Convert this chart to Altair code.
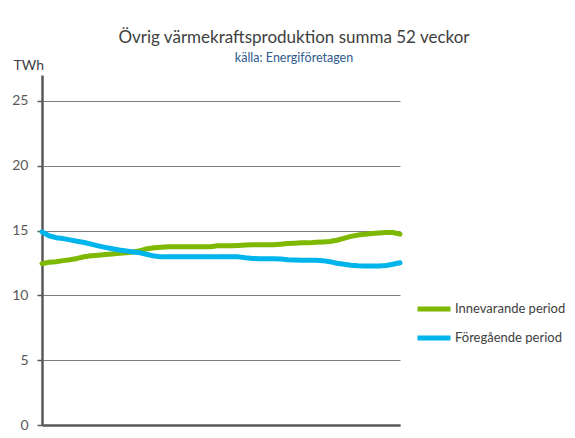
import altair as alt
import pandas as pd

weeks = list(range(52))
innevarande = [12.45, 12.55, 12.6, 12.68, 12.75, 12.85, 12.98, 13.05, 13.1, 13.15,
               13.2, 13.25, 13.28, 13.35, 13.45, 13.6, 13.68, 13.72, 13.75, 13.75,
               13.75, 13.75, 13.75, 13.75, 13.75, 13.82, 13.82, 13.82, 13.85, 13.88,
               13.9, 13.9, 13.9, 13.9, 13.95, 14.0, 14.02, 14.05, 14.05, 14.1,
               14.12, 14.15, 14.25, 14.4, 14.55, 14.65, 14.72, 14.78, 14.82, 14.85,
               14.85, 14.72]
foregaende = [14.9, 14.6, 14.45, 14.38, 14.28, 14.18, 14.08, 13.95, 13.82, 13.7,
              13.6, 13.5, 13.42, 13.35, 13.28, 13.15, 13.03, 12.97, 12.97, 12.97,
              12.97, 12.97, 12.97, 12.97, 12.97, 12.97, 12.97, 12.97, 12.97, 12.9,
              12.85, 12.82, 12.82, 12.82, 12.8, 12.75, 12.72, 12.7, 12.7, 12.7,
              12.68, 12.6, 12.48, 12.4, 12.32, 12.28, 12.27, 12.27, 12.27, 12.3,
              12.4, 12.52]
series_names = ["Innevarande period", "Föregående period"]
series_colors = ["#7DB900", "#00B4EC"]
y_ticks = [0, 5, 10, 15, 20, 25]

df = pd.DataFrame({
    "vecka": weeks * 2,
    "TWh": innevarande + foregaende,
    "serie": [series_names[0]] * 52 + [series_names[1]] * 52,
})

FONT = "Lato"

chart = alt.Chart(df).mark_line(strokeWidth=5, strokeCap="round", strokeJoin="round").encode(
    x=alt.X("vecka:Q", scale=alt.Scale(domain=[0, 51], nice=False, zero=False),
            axis=alt.Axis(title=None, labels=False, ticks=False, grid=False,
                          domainColor="#595959", domainWidth=2.5)),
    y=alt.Y("TWh:Q", scale=alt.Scale(domain=[0, 27], nice=False),
            axis=alt.Axis(values=y_ticks, title="TWh", titleAngle=0, titleAlign="left",
                          titleBaseline="middle", titleX=-29, titleY=-10,
                          titleFont=FONT, titleFontSize=14, titleFontWeight="normal",
                          titleColor="#404040",
                          labelFont=FONT, labelFontSize=14, labelColor="#595959",
                          labelPadding=9, tickSize=5, tickColor="#595959", tickWidth=1.5,
                          domainColor="#595959", domainWidth=2.5,
                          grid=True, gridColor="#7F7F7F", gridWidth=1)),
    color=alt.Color("serie:N", sort=series_names,
                    scale=alt.Scale(domain=series_names, range=series_colors),
                    legend=alt.Legend(title=None, orient="none", legendX=373, legendY=215,
                                      symbolType="stroke", symbolSize=1089,
                                      symbolStrokeWidth=5, labelFont=FONT,
                                      labelFontSize=13, labelColor="#404040",
                                      labelOffset=2, rowPadding=0, padding=0)),
).properties(
    width=358,
    height=350,
    title=alt.TitleParams(
        text="Övrig värmekraftsproduktion summa 52 veckor",
        subtitle="källa: Energiföretagen",
        anchor="middle", dx=73, font=FONT, fontSize=17, fontWeight="normal",
        color="#404040", subtitleFont=FONT, subtitleFontSize=12.5,
        subtitleColor="#2E5A8C", subtitlePadding=5, offset=-7,
    ),
    autosize=alt.AutoSizeParams(type="none"),
    padding={"left": 34, "top": 67, "right": 167, "bottom": 30},
).configure_view(stroke=None)

chart.save("out.html", embed_options={"renderer": "svg", "actions": False})
